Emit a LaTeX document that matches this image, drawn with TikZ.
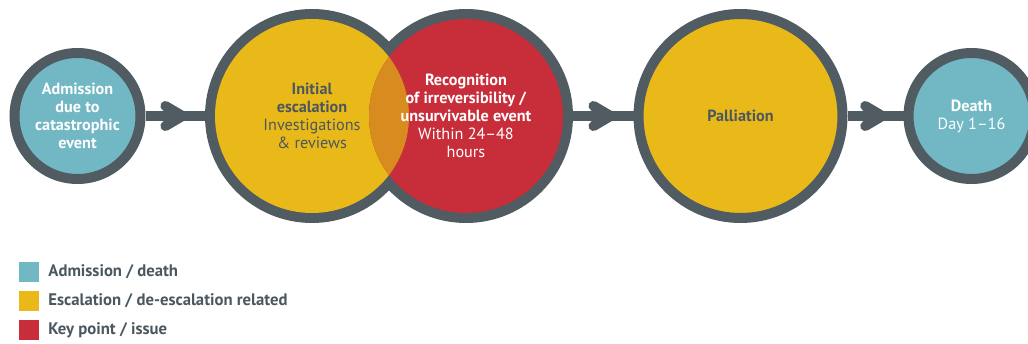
\documentclass[tikz,border=0pt]{standalone}
\usepackage{fontspec}
\setmainfont{PT Sans}
\usetikzlibrary{positioning,decorations.markings,backgrounds}

\definecolor{ringgrey}{RGB}{80,91,98}
\definecolor{textgrey}{RGB}{75,87,95}
\definecolor{adteal}{RGB}{113,183,196}
\definecolor{escyellow}{RGB}{233,185,25}
\definecolor{keyred}{RGB}{200,46,58}
\definecolor{lensorange}{RGB}{216,139,30}

\newcommand{\circfont}{\fontsize{16.2}{18}\selectfont}

\tikzset{
  smallcirc/.style={circle, draw=ringgrey, line width=10pt, minimum size=126pt,
    inner sep=0pt, align=center, font=\circfont},
  bigcirc/.style={circle, draw=ringgrey, line width=10pt, minimum size=204pt,
    inner sep=0pt, align=center, font=\circfont},
  bigspot/.style={circle, minimum size=214pt, inner sep=0pt, outer sep=0pt,
    align=center, font=\circfont},
  flow/.style={draw=ringgrey, line width=10pt, postaction={decorate},
    decoration={markings, mark=at position 0.62 with {
      \draw[ringgrey, line width=10pt, line cap=round, line join=round]
        (-17pt,10pt) -- (0pt,0pt) -- (-17pt,-10pt);}}},
  keybox/.style={minimum size=20pt, inner sep=0pt},
  keytext/.style={inner sep=0pt, anchor=west, text=textgrey,
    font=\fontsize{16.7}{18}\selectfont\bfseries}
}

\begin{document}
\begin{tikzpicture}[x=1pt, y=1pt]
    \useasboundingbox (0,0) rectangle (1028,343);

    % circles
    \node[smallcirc, fill=adteal, text=white] (adm) at (77.5,227)
        {\textbf{Admission}\\\textbf{due to}\\\textbf{catastrophic}\\\textbf{event}};
    \node[bigspot, text=textgrey] (esc) at (312,227)
        {\textbf{Initial}\\\textbf{escalation}\\Investigations\\\& reviews};
    \node[bigspot, text=white] (rec) at (466,227)
        {\textbf{Recognition}\\\textbf{of irreversibility /}\\\textbf{unsurvivable event}\\Within 24–48\\hours};
    \node[bigcirc, fill=escyellow, text=textgrey] (pal) at (740.5,227)
        {\textbf{Palliation}};
    \node[smallcirc, fill=adteal, text=white] (death) at (971.5,227)
        {\textbf{Death}\\Day 1–16};

    % overlapping pair
    \begin{scope}[on background layer]
        \fill[ringgrey] (esc.center) circle (107) (rec.center) circle (107);
        \fill[escyellow] (esc.center) circle (97);
        \fill[keyred] (rec.center) circle (97);
        \begin{scope}
            \clip (esc.center) circle (97);
            \fill[lensorange] (rec.center) circle (97);
        \end{scope}
    \end{scope}

    % connectors
    \draw[flow] (adm) -- (esc);
    \draw[flow] (rec) -- (pal);
    \draw[flow] (pal) -- (death);

    % legend
    \node[keybox, fill=adteal] (keyadm) at (29,71) {};
    \node[keybox, fill=escyellow] (keyesc) at (29,42) {};
    \node[keybox, fill=keyred] (keyred) at (29,13) {};
    \node[keytext, right=9pt of keyadm] (txtadm) {Admission / death};
    \node[keytext, right=9pt of keyesc] (txtesc) {Escalation / de-escalation related};
    \node[keytext, right=9pt of keyred] (txtred) {Key point / issue};
\end{tikzpicture}
\end{document}
